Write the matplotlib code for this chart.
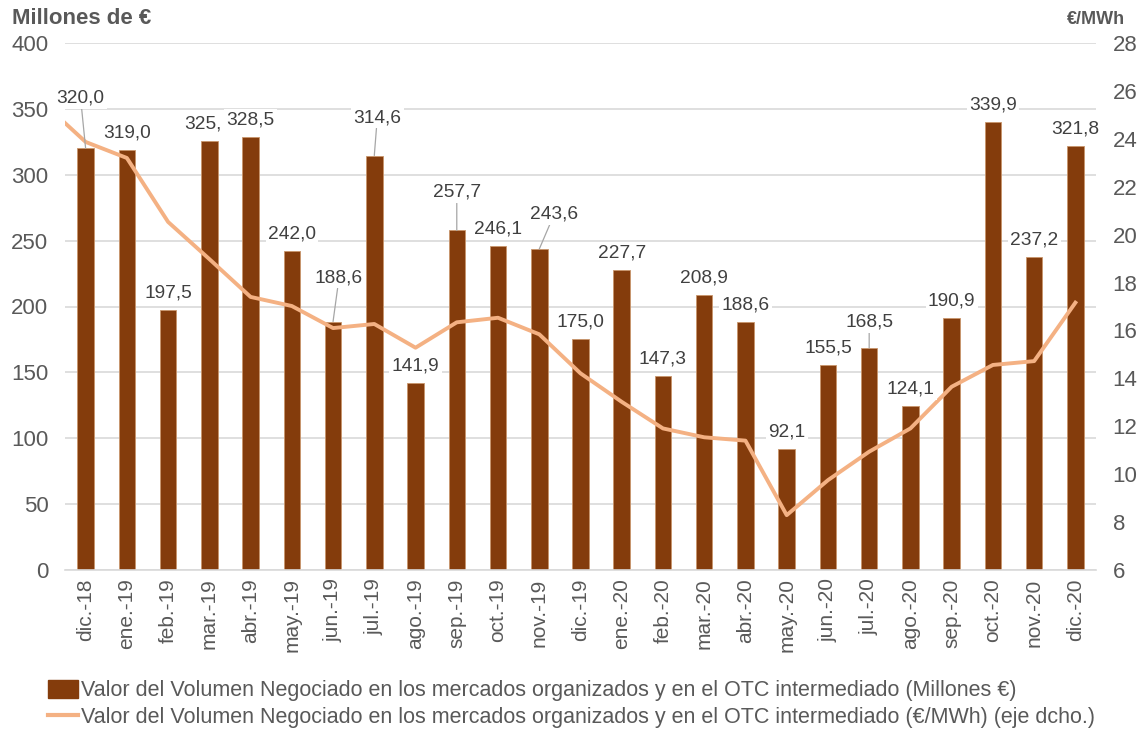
import matplotlib
matplotlib.use("Agg")
import matplotlib.pyplot as plt
from matplotlib.patches import Patch
from matplotlib.lines import Line2D

plt.rcParams['font.family'] = ['Liberation Sans', 'DejaVu Sans']

categories = ["dic.-18", "ene.-19", "feb.-19", "mar.-19", "abr.-19", "may.-19", "jun.-19",
              "jul.-19", "ago.-19", "sep.-19", "oct.-19", "nov.-19", "dic.-19", "ene.-20",
              "feb.-20", "mar.-20", "abr.-20", "may.-20", "jun.-20", "jul.-20", "ago.-20",
              "sep.-20", "oct.-20", "nov.-20", "dic.-20"]
volumen_meur = [320.0, 319.0, 197.5, 325.6, 328.5, 242.0, 188.6, 314.6, 141.9, 257.7, 246.1,
                243.6, 175.0, 227.7, 147.3, 208.9, 188.6, 92.1, 155.5, 168.5, 124.1, 190.9,
                339.9, 237.2, 321.8]
bar_labels = ["320,0", "319,0", "197,5", "325,", "328,5", "242,0", "188,6", "314,6", "141,9",
              "257,7", "246,1", "243,6", "175,0", "227,7", "147,3", "208,9", "188,6", "92,1",
              "155,5", "168,5", "124,1", "190,9", "339,9", "237,2", "321,8"]
# price line (€/MWh); first point sits at the left edge of the plot
precio_start = 24.66
precio_eur_mwh = [23.87, 23.20, 20.53, 18.98, 17.40, 17.02, 16.10, 16.27, 15.28, 16.34, 16.53,
                  15.84, 14.21, 13.02, 11.91, 11.54, 11.40, 8.29, 9.75, 10.94, 11.91, 13.65,
                  14.56, 14.72, 17.16]
legend_labels = [
    "Valor del Volumen Negociado en los mercados organizados y en el OTC intermediado (Millones €)",
    "Valor del Volumen Negociado en los mercados organizados y en el OTC intermediado (€/MWh) (eje dcho.)",
]

# label offsets in pixels (dx, dy) from bar top; leader lines where flagged
label_offsets = {0: (-5, -50), 3: (-6, -17), 6: (6, -44), 7: (3, -38), 9: (0, -38),
                 11: (15, -35), 19: (0, -26)}
leader = {0, 6, 7, 9, 11, 19}

BAR = "#843C0C"
LINE = "#F4B183"
TXT = "#595959"
LBL = "#404040"
GRID = "#D9D9D9"

fig = plt.figure(figsize=(11.44, 7.31), dpi=100)
ax = fig.add_axes([65/1144, 1-570/731, (1096-65)/1144, (570-43)/731])
ax2 = ax.twinx()

x = list(range(len(categories)))
ax.bar(x, volumen_meur, width=0.4, color=BAR, edgecolor="#C9956B", linewidth=0.6, zorder=2)
ax.set_xlim(-0.5, len(categories) - 0.5)
ax.set_ylim(0, 400)
ax.set_yticks(range(0, 401, 50))
ax.yaxis.grid(True, color=GRID, linewidth=1.2, zorder=0)
ax.set_axisbelow(True)
for s in ax.spines.values():
    s.set_visible(False)
for s in ax2.spines.values():
    s.set_visible(False)
ax.spines['bottom'].set_visible(True)
ax.spines['bottom'].set_color(GRID)
ax.spines['bottom'].set_linewidth(1.2)
ax.tick_params(axis='y', length=0, pad=12, labelsize=16, labelcolor=TXT)
ax.set_xticks(x)
ax.set_xticklabels(categories, rotation=90, fontsize=15, color=TXT)
ax.tick_params(axis='x', length=0, pad=6)

lx = [-0.5] + x
ly = [precio_start] + precio_eur_mwh
ax2.plot(lx, ly, color=LINE, linewidth=2.8, solid_joinstyle='round', zorder=3)
ax2.set_ylim(6, 28)
ax2.set_yticks(range(6, 29, 2))
ax2.tick_params(axis='y', length=0, pad=12, labelsize=16, labelcolor=TXT)
ax2.set_xlim(-0.5, len(categories) - 0.5)

# data labels (on top of the line)
for i, (v, lab) in enumerate(zip(volumen_meur, bar_labels)):
    dx, dy = label_offsets.get(i, (0, -17))
    bbox = dict(boxstyle="square,pad=0.12", fc="white", ec="none")
    kw = dict(xy=(i, v), xycoords=ax.transData,
              xytext=(dx * 0.72, -dy * 0.72), textcoords="offset points",
              ha="center", va="center", fontsize=13.8, color=LBL, bbox=bbox, zorder=5)
    if i in leader:
        kw["arrowprops"] = dict(arrowstyle="-", color="#A6A6A6", lw=0.9, shrinkA=0, shrinkB=0)
    ax2.annotate(lab, **kw)

fig.text(12/1144, 1-18/731, "Millones de €", fontsize=16, fontweight="bold", color=TXT,
         ha="left", va="center")
fig.text(1125/1144, 1-19/731, "€/MWh", fontsize=13, fontweight="bold", color=TXT,
         ha="right", va="center")

handles = [Patch(facecolor=BAR, edgecolor=BAR),
           Line2D([0], [0], color=LINE, linewidth=3)]
fig.legend(handles, legend_labels, loc="center left",
           bbox_to_anchor=(48/1144, 1-704/731), frameon=False,
           labelcolor=TXT, handlelength=1.4, handleheight=0.9, handletextpad=0.12,
           labelspacing=0.25, borderaxespad=0, borderpad=0,
           prop={'family': ['Liberation Sans'], 'size': 15.5})

fig.savefig("out.png", dpi=100)
